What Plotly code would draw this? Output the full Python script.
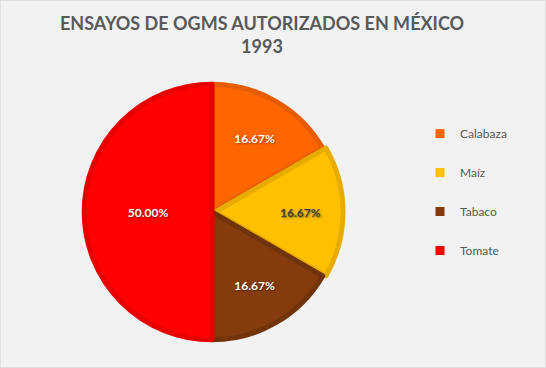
import plotly.graph_objects as go

categories = ["Calabaza", "Maíz", "Tabaco", "Tomate"]
values = [1, 1, 1, 3]
fill_colors = ["#FF6600", "#FFC000", "#843C0C", "#FF0000"]
edge_colors = ["#E65C00", "#E6AD00", "#70330A", "#E60000"]
text_colors = ["#FFFFFF", "#404040", "#FFFFFF", "#FFFFFF"]
pulls = [0, 0.025, 0, 0]

W, H = 546, 368
cx, cy, r = 212, 212, 131

fig = go.Figure()
fig.add_trace(go.Pie(
    labels=categories,
    values=values,
    sort=False,
    direction="clockwise",
    rotation=0,
    pull=pulls,
    marker=dict(colors=fill_colors, line=dict(color=edge_colors, width=5)),
    texttemplate="%{percent:.2%}",
    textposition="inside",
    insidetextorientation="horizontal",
    insidetextfont=dict(family="Lato", size=12, color=text_colors, weight="bold",
                        shadow="1px 1px 2px rgba(0,0,0,0.45)"),
    showlegend=False,
    hoverinfo="label+percent",
    domain=dict(x=[(cx - r) / W, (cx + r) / W], y=[(H - cy - r) / H, (H - cy + r) / H]),
))

for name, col in zip(categories, fill_colors):
    fig.add_trace(go.Scatter(
        x=[None], y=[None], mode="markers", name=name, legendgroup=name,
        marker=dict(symbol="square", size=9, color=col),
        showlegend=True, hoverinfo="skip",
    ))

fig.update_layout(
    width=W, height=H,
    margin=dict(l=0, r=0, t=0, b=0),
    paper_bgcolor="#F2F2F2",
    plot_bgcolor="rgba(0,0,0,0)",
    xaxis=dict(visible=False),
    yaxis=dict(visible=False),
    title=dict(
        text="ENSAYOS DE OGMS AUTORIZADOS EN MÉXICO<br>1993",
        x=262 / W, xref="container", xanchor="center",
        y=1 - 30 / H, yref="container", yanchor="top",
        font=dict(family="Lato", size=18, color="#595959", weight="bold"),
    ),
    legend=dict(
        x=420 / W, y=1 - 119 / H, xanchor="left", yanchor="top",
        font=dict(family="Lato", size=12, color="#595959"),
        bgcolor="rgba(0,0,0,0)",
        tracegroupgap=20,
        itemwidth=30,
    ),
    shapes=[dict(type="rect", xref="paper", yref="paper", x0=0, y0=0, x1=1, y1=1,
                 line=dict(color="#D9D9D9", width=1.5), fillcolor="rgba(0,0,0,0)")],
)

fig.write_html("out.html", config={"displayModeBar": False},
               post_script="document.body.style.margin='0';document.body.style.overflow='hidden';")
